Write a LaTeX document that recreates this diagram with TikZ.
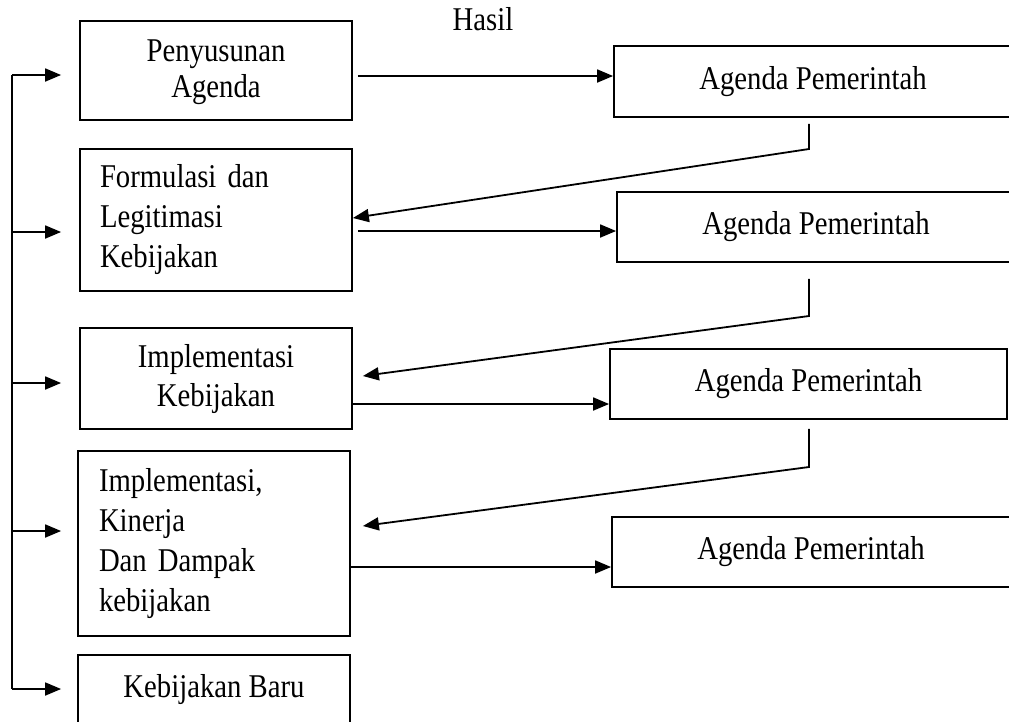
\documentclass[tikz,border=0pt]{standalone}
\usepackage{fontspec}
\setmainfont{Liberation Serif}[FakeStretch=0.865]
\usetikzlibrary{arrows.meta}
\begin{document}
\begin{tikzpicture}[x=1pt,y=-1pt,
  every node/.style={font=\fontsize{33.2pt}{40pt}\selectfont},
  stage/.style={draw, line width=1.8pt, inner sep=0pt, minimum width=272pt},
  result/.style={draw, line width=1.8pt, inner sep=0pt, minimum height=70pt},
  link/.style={line width=1.8pt, -{Triangle[length=16pt,width=13pt]}},
  plain/.style={line width=1.8pt}]
\useasboundingbox (0,0) rectangle (1009,721);
\clip (0,0) rectangle (1009,721);

% policy stages (left column)
\node[stage, minimum height=99pt, align=center,
      font=\fontsize{33.2pt}{36pt}\selectfont] (pa) at (216,70.5)
      {\rule{0pt}{25pt}Penyusunan\\Agenda};
\node[stage, minimum height=142pt, text width=232pt, align=left] (fl) at (216,220)
      {Formulasi dan\\Legitimasi\\Kebijakan};
\node[stage, minimum height=101pt, align=center,
      font=\fontsize{33.2pt}{39pt}\selectfont] (ik) at (216,378.5)
      {\rule{0pt}{25pt}Implementasi\\Kebijakan};
\node[stage, minimum height=185pt, text width=230pt, align=left] (kd) at (214,543.5)
      {Implementasi,\\Kinerja\\Dan Dampak\\kebijakan};
\node[stage, minimum height=70pt] (kb) at (214,690) {Kebijakan Baru};

% outcomes (right column)
\node[anchor=base] (hasil) at (483,30) {Hasil};
\node[result, minimum width=398pt, minimum height=71pt] (a1) at (813,81.5) {Agenda Pemerintah};
\node[result, minimum width=398pt] (a2) at (816,227) {Agenda Pemerintah};
\node[result, minimum width=397pt] (a3) at (808.5,384) {Agenda Pemerintah};
\node[result, minimum width=398pt] (a4) at (811,552) {Agenda Pemerintah};

% feedback trunk on the left
\coordinate (t1) at (12,75);
\coordinate (t2) at (12,232);
\coordinate (t3) at (12,383);
\coordinate (t4) at (12,531);
\coordinate (t5) at (12,689);
\draw[plain] (t1) -- (t5);
\draw[link] (t1) -- ([xshift=-18pt]t1 -| pa.west);
\draw[link] (t2) -- ([xshift=-18pt]t2 -| fl.west);
\draw[link] (t3) -- ([xshift=-18pt]t3 -| ik.west);
\draw[link] (t4) -- ([xshift=-16pt]t4 -| kd.west);
\draw[link] (t5) -- ([xshift=-16pt]t5 -| kb.west);

% stage -> outcome
\draw[link] ([xshift=5pt]pa.east |- 0,76) -- (a1.west |- 0,76);
\draw[link] ([xshift=5pt]fl.east |- 0,231) -- (a2.west |- 0,231);
\draw[link] (ik.east |- 0,404) -- (a3.west |- 0,404);
\draw[link] (kd.east |- 0,567) -- (a4.west |- 0,567);

% outcome -> next stage
\coordinate (k1) at (809,149);
\coordinate (k2) at (809,316);
\coordinate (k3) at (809,467);
\draw[link, shorten <=6pt] (a1.south -| k1) -- (k1) -- (fl.east |- 0,218);
\draw[link, shorten <=16pt] (a2.south -| k2) -- (k2) -- ([xshift=10pt]ik.east |- 0,376);
\draw[link, shorten <=9pt] (a3.south -| k3) -- (k3) -- ([xshift=12pt]kd.east |- 0,526);
\end{tikzpicture}
\end{document}
